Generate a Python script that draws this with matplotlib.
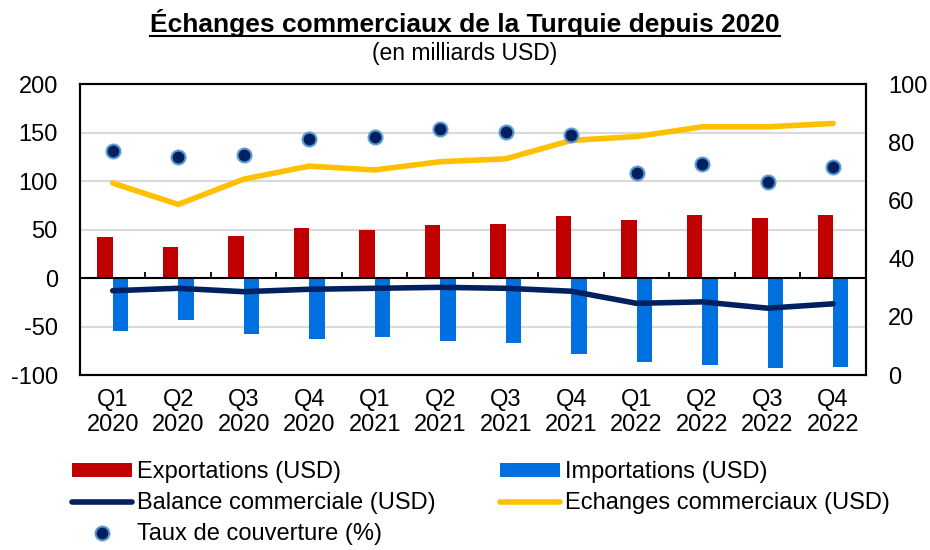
#!/usr/bin/env python3
import numpy as np
import matplotlib
matplotlib.use('Agg')
import matplotlib.pyplot as plt
from matplotlib.lines import Line2D

### data (milliards USD, taux en %)
quarters = ['Q1\n2020', 'Q2\n2020', 'Q3\n2020', 'Q4\n2020',
            'Q1\n2021', 'Q2\n2021', 'Q3\n2021', 'Q4\n2021',
            'Q1\n2022', 'Q2\n2022', 'Q3\n2022', 'Q4\n2022']
exports = [42.5, 32.5, 43, 51.5, 49.5, 55, 56, 64, 60, 65, 62, 65.5]
imports = [-55, -43, -57.5, -63, -60.5, -65, -67, -78, -86, -90, -93, -92]
balance = [-13, -10.5, -14, -11.5, -10.5, -9.5, -10.5, -13.5, -26, -24.5, -31, -26.5]
echanges = [98, 76, 102, 115.5, 111.5, 120, 123, 142, 146, 156, 156, 159.5]
couverture = [77, 75, 75.5, 81, 82, 84.5, 83.5, 82.5, 69.5, 72.5, 66.5, 71.5]

plt.rcParams['font.family'] = ['Liberation Sans', 'DejaVu Sans']
plt.rcParams['axes.unicode_minus'] = False

fig = plt.figure(figsize=(9.3, 5.5), dpi=100)
ax = fig.add_axes([0.086, 0.318, 0.845, 0.529])
ax2 = ax.twinx()

x = np.arange(len(quarters))
w = 0.235
ax.bar(x - w/2, exports, width=w, color='#C00000', label='Exportations (USD)', zorder=3)
ax.bar(x + w/2, imports, width=w, color='#0070E0', label='Importations (USD)', zorder=3)
ax.axhline(0, color='black', lw=1.5, zorder=4)
# small category tick marks on the zero line
ax.vlines(x[:-1] + 0.5, 0, 6, color='black', lw=1.3, zorder=4)
ax.plot(x, balance, color='#002060', lw=4, solid_capstyle='round',
        label='Balance commerciale (USD)', zorder=5)
ax.plot(x, echanges, color='#FFC000', lw=4, solid_capstyle='round',
        label='Echanges commerciaux (USD)', zorder=5)
ax2.plot(x, couverture, 'o', color='#002060', mec='#5B9BD5', mew=1.5, ms=10,
         label='Taux de couverture (%)', zorder=6)

ax.set_xlim(-0.5, len(quarters) - 0.5)
ax.set_ylim(-100, 200)
ax.set_yticks(np.arange(-100, 201, 50))
ax2.set_ylim(0, 100)
ax2.set_yticks(np.arange(0, 101, 20))
for v in [-50, 50, 100, 150]:
    ax.axhline(v, color='#D9D9D9', lw=1.5, zorder=1)

ax.set_xticks(x)
ax.set_xticklabels(quarters, fontsize=17, linespacing=1.2)
ax.tick_params(axis='x', length=0, pad=10)
ax.tick_params(axis='y', length=0, labelsize=17, pad=16)
ax2.tick_params(axis='y', length=0, labelsize=17, pad=16)
for a in (ax, ax2):
    for s in a.spines.values():
        s.set_linewidth(1.5)
ax2.set_zorder(ax.get_zorder() + 1)
ax2.patch.set_visible(False)

### title with underline
t = fig.text(0.5, 0.958, 'Échanges commerciaux de la Turquie depuis 2020',
             ha='center', va='center', fontsize=19, fontweight='bold')
fig.text(0.5, 0.903, '(en milliards USD)', ha='center', va='center', fontsize=16.5)
fig.canvas.draw()
bb = t.get_window_extent().transformed(fig.transFigure.inverted())
fig.add_artist(Line2D([bb.x0, bb.x1], [bb.y0 + 0.002, bb.y0 + 0.002],
                      color='black', lw=1.5, transform=fig.transFigure))

### legend
h1, l1 = ax.get_legend_handles_labels()
h2, l2 = ax2.get_legend_handles_labels()
hd = dict(zip(l1 + l2, h1 + h2))
order = ['Exportations (USD)', 'Balance commerciale (USD)', 'Taux de couverture (%)',
         'Importations (USD)', 'Echanges commerciaux (USD)']
fig.legend([hd[k] for k in order], order, ncol=2, loc='upper left',
           bbox_to_anchor=(0.077, 0.161), frameon=False, fontsize=17,
           handlelength=2.55, handleheight=0.55, handletextpad=0.2,
           columnspacing=2.75, labelspacing=0.38, borderpad=0, borderaxespad=0)

plt.savefig('out.png', dpi=100)
